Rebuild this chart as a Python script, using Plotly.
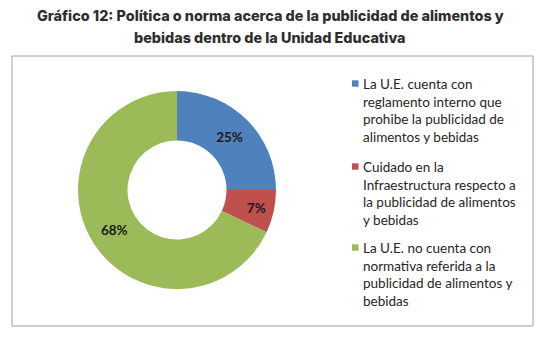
import plotly.graph_objects as go

labels = [
    "La U.E. cuenta con<br>reglamento interno que<br>prohibe la publicidad de<br>alimentos y bebidas",
    "Cuidado en la<br>Infraestructura respecto a<br>la publicidad de alimentos<br>y bebidas",
    "La U.E. no cuenta con<br>normativa referida a la<br>publicidad de alimentos y<br>bebidas",
]
values = [25, 7, 68]
colors = ["#4F81BD", "#C0504D", "#9BBB59"]
title_lines = [
    "Gráfico 12: Política o norma acerca de la publicidad de alimentos y",
    "bebidas dentro de la Unidad Educativa",
]

W, H = 540, 337

fig = go.Figure()
fig.add_trace(go.Pie(
    labels=labels,
    values=values,
    hole=0.5,
    sort=False,
    direction="clockwise",
    rotation=0,
    marker=dict(colors=colors, line=dict(width=0)),
    texttemplate="<b>%{percent:.0%}</b>",
    textposition="inside",
    insidetextorientation="horizontal",
    textfont=dict(family="Lato", size=13.5, color="#1a1a1a"),
    domain=dict(x=[(177 - 99) / W, (177 + 99) / W], y=[1 - 289 / H, 1 - 91 / H]),
    showlegend=False,
))

# chart frame
fig.add_shape(type="rect", xref="paper", yref="paper",
              x0=12 / W, x1=533 / W, y0=1 - 326 / H, y1=1 - 56 / H,
              line=dict(color="#a0a0a0", width=1), fillcolor="rgba(0,0,0,0)")

# title (two lines)
for i, line in enumerate(title_lines):
    fig.add_annotation(
        text=line, xref="paper", yref="paper",
        x=0.5, y=1 - (16 + 21 * i) / H, xanchor="center", yanchor="middle",
        showarrow=False,
        font=dict(family="Inter", size=14.4, color="#2e2e2e", weight=800),
    )

# legend (markers + wrapped labels)
legend_first_line = [83.5, 166.5, 247.5]
for lab, col, yc in zip(labels, colors, legend_first_line):
    fig.add_shape(type="rect", xref="paper", yref="paper",
                  x0=352 / W, x1=358.5 / W, y0=1 - (yc + 3.2) / H, y1=1 - (yc - 3.2) / H,
                  line=dict(width=0), fillcolor=col)
    fig.add_annotation(
        text=lab, xref="paper", yref="paper",
        x=361 / W, y=1 - (yc - 9.8) / H, xanchor="left", yanchor="top",
        showarrow=False, align="left",
        font=dict(family="Lato", size=13.5, color="#262626"),
    )

fig.update_layout(
    width=W, height=H,
    margin=dict(l=0, r=0, t=0, b=0),
    paper_bgcolor="white", plot_bgcolor="white",
    showlegend=False,
)

fig.write_html("out.html")
